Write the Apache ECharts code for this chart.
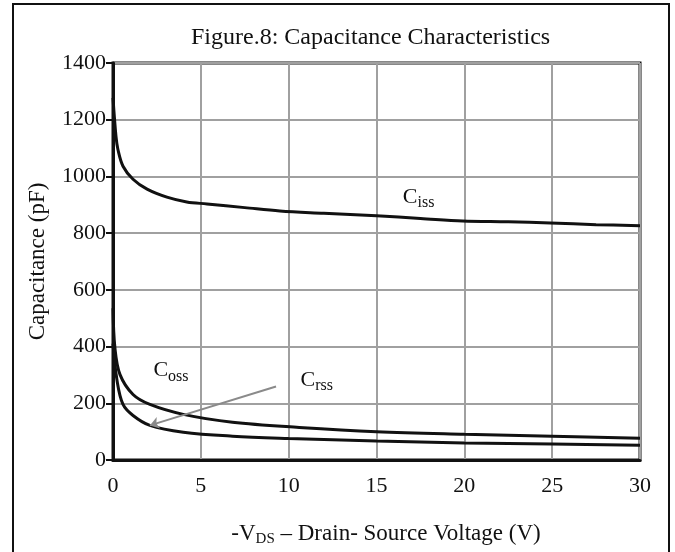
<!DOCTYPE html>
<html>
<head>
<meta charset="utf-8">
<title>Capacitance Characteristics</title>
<script src="https://cdn.jsdelivr.net/npm/echarts@6/dist/echarts.min.js"></script>
<style>
html, body { margin: 0; padding: 0; background: #fff; }
#main { width: 675px; height: 552px; }
</style>
</head>
<body>
<div id="main"></div>
<script type="text/javascript">
// -VDS (V) / capacitance (pF)
var cissV = [0, 0.17, 0.28, 0.57, 1.14, 1.94, 3.07, 4.2, 5.35, 7.5, 9.5, 12, 15, 17.5, 19.9, 22.5, 24.9, 27.5, 30];
var cissC = [1277, 1141, 1095, 1036, 990, 955, 927, 910, 903, 890, 878, 870, 861, 852, 843, 840, 836, 830, 826];

var cossV = [0, 0.11, 0.4, 1.14, 2.1, 4.0, 6.8, 10.6, 15, 20, 25, 30];
var cossC = [535, 395, 301, 231, 196, 161, 133, 115, 100, 91, 84, 77];

var crssV = [0, 0.23, 0.57, 1.14, 2.1, 4.0, 6.8, 10, 15, 20, 25, 30];
var crssC = [410, 280, 196, 157, 122, 98, 84, 76, 67, 60, 56, 52];

var xTicks = [0, 5, 10, 15, 20, 25, 30];
var yTicks = [0, 200, 400, 600, 800, 1000, 1200, 1400];

// label anchors [V, pF]
var cissLabelAt = [17.4, 927];
var cossLabelAt = [3.3, 315];
var crssLabelAt = [11.6, 283];
var crssArrow = [[9.28, 259], [2.1, 122]];

var serif = 'Liberation Serif';

function pairs(xs, ys) {
	var out = [];
	for (var i = 0; i < xs.length; i++) out.push([xs[i], ys[i]]);
	return out;
}

function tag(at, sub) {
	return {
		data: [{ coord: at, value: sub }],
		symbol: 'circle',
		symbolSize: 0,
		silent: true,
		label: {
			show: true,
			position: 'inside',
			formatter: '{c|C}{s|' + sub + '}',
			rich: {
				c: { fontFamily: serif, fontSize: 22, color: '#111' },
				s: { fontFamily: serif, fontSize: 16, color: '#111', padding: [12, 0, 0, 0] }
			}
		}
	};
}

var myChart = echarts.init(document.getElementById('main'), null, { renderer: 'canvas' });

var lineStyle = { color: '#111', width: 3 };

var option = {
	animation: false,
	backgroundColor: '#fff',
	title: {
		text: 'Figure.8: Capacitance Characteristics',
		left: 186,
		top: 21,
		textStyle: { fontFamily: serif, fontSize: 24, fontWeight: 'normal', color: '#111' }
	},
	grid: {
		left: 113, right: 35, top: 63, bottom: 89,
		show: true, borderColor: '#111', borderWidth: 3
	},
	xAxis: {
		type: 'value',
		min: xTicks[0], max: xTicks[xTicks.length - 1], interval: 5,
		name: '-V{s|DS} \u2013 Drain- Source Voltage (V)',
		nameLocation: 'middle',
		nameGap: 60,
		nameTextStyle: {
			fontFamily: serif, fontSize: 23, color: '#111', padding: [0, 0, 0, 19],
			rich: { s: { fontFamily: serif, fontSize: 15, color: '#111', padding: [12, 0, 0, 0] } }
		},
		axisLine: { lineStyle: { color: '#111', width: 3 } },
		axisTick: { show: false },
		axisLabel: { fontFamily: serif, fontSize: 22, color: '#111', margin: 15 },
		splitLine: { lineStyle: { color: '#a0a0a0', width: 2 } }
	},
	yAxis: {
		type: 'value',
		min: yTicks[0], max: yTicks[yTicks.length - 1], interval: 200,
		name: 'Capacitance (pF)',
		nameLocation: 'middle',
		nameGap: 64,
		nameTextStyle: { fontFamily: serif, fontSize: 23, color: '#111' },
		axisLine: { show: true, lineStyle: { color: '#111', width: 3 } },
		axisTick: { show: true, length: 7, lineStyle: { color: '#111', width: 2 } },
		axisLabel: {
			fontFamily: serif, fontSize: 22, color: '#111', margin: 7,
			formatter: function (v) { return String(v); }
		},
		splitLine: { lineStyle: { color: '#a0a0a0', width: 2 } }
	},
	graphic: [{
		type: 'polyline',
		shape: { points: [[13, 560], [13, 4], [669, 4], [669, 560]] },
		style: { stroke: '#111', lineWidth: 2, fill: null },
		silent: true
	}],
	series: [
		{
			name: 'Ciss', type: 'line', data: pairs(cissV, cissC),
			smooth: 0.35, showSymbol: false, lineStyle: lineStyle,
			markPoint: tag(cissLabelAt, 'iss')
		},
		{
			name: 'Coss', type: 'line', data: pairs(cossV, cossC),
			smooth: 0.35, showSymbol: false, lineStyle: lineStyle,
			markPoint: tag(cossLabelAt, 'oss')
		},
		{
			name: 'Crss', type: 'line', data: pairs(crssV, crssC),
			smooth: 0.35, showSymbol: false, lineStyle: lineStyle,
			markPoint: tag(crssLabelAt, 'rss'),
			markLine: {
				silent: true,
				symbol: ['none', 'arrow'],
				symbolSize: 9,
				label: { show: false },
				lineStyle: { color: '#8a8a8a', width: 2, type: 'solid' },
				data: [[{ coord: crssArrow[0] }, { coord: crssArrow[1] }]]
			}
		}
	]
};

myChart.setOption(option);
</script>
</body>
</html>
